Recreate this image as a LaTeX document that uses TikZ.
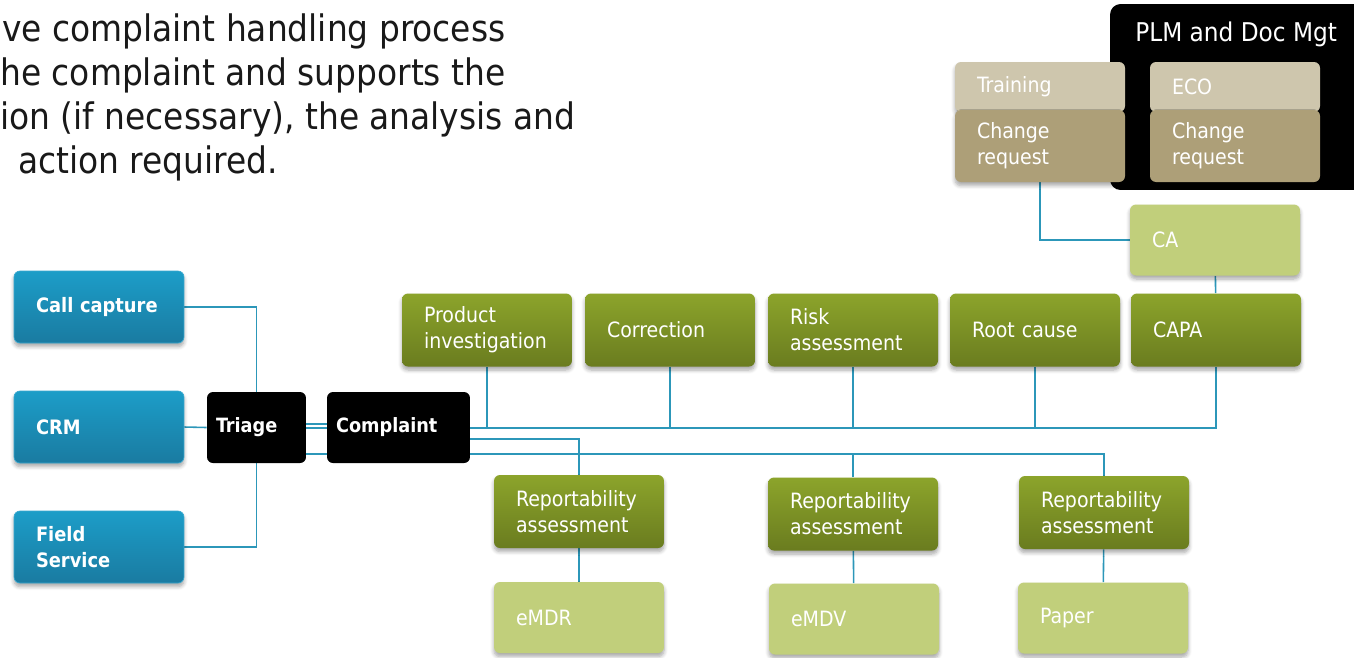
\documentclass[tikz,border=0pt]{standalone}
\usepackage{fontspec}
\setmainfont{DejaVu Sans Condensed}
\usetikzlibrary{positioning,shadows.blur,backgrounds}
\definecolor{blueTop}{HTML}{1C9DC8}
\definecolor{blueBot}{HTML}{1A7BA1}
\definecolor{blueEdge}{HTML}{3AA8CF}
\definecolor{oliveTop}{HTML}{8CA42B}
\definecolor{oliveBot}{HTML}{6A7C1F}
\definecolor{leaf}{HTML}{C1CF7B}
\definecolor{tanLight}{HTML}{CEC6AD}
\definecolor{tanDark}{HTML}{AD9F78}
\definecolor{wireblue}{HTML}{2C97B9}

\begin{document}
\begin{tikzpicture}[x=0.02cm,y=-0.02cm]
  \tikzstyle{every node}=[inner sep=0pt, text=white, font=\fontsize{12}{14.7}\selectfont]
  \tikzstyle{softshadow}=[blur shadow={shadow blur steps=6, shadow xshift=0pt, shadow yshift=-2pt, shadow opacity=35}]
  \tikzstyle{srcbox}=[rectangle, rounded corners=3.4pt, minimum width=3.4cm, minimum height=1.44cm, text width=2.52cm, align=left, top color=blueTop, bottom color=blueBot, draw=blueEdge, softshadow, font=\fontsize{11.3}{14.7}\selectfont\bfseries]
  \tikzstyle{hubbox}=[rectangle, rounded corners=3.4pt, fill=black, minimum height=1.42cm, align=left, font=\fontsize{11.2}{14.7}\selectfont\bfseries]
  \tikzstyle{stagebox}=[rectangle, rounded corners=3.4pt, minimum width=3.4cm, minimum height=1.46cm, text width=2.52cm, align=left, top color=oliveTop, bottom color=oliveBot, softshadow]
  \tikzstyle{leafbox}=[rectangle, rounded corners=3.4pt, minimum width=3.4cm, minimum height=1.42cm, text width=2.52cm, align=left, fill=leaf, softshadow]
  \tikzstyle{tanbox}=[rectangle, rounded corners=3.4pt, minimum width=3.4cm, text width=2.52cm, align=left, softshadow]
  \tikzstyle{wire}=[draw=wireblue, line width=0.9pt]
  \tikzstyle{intro}=[anchor=base west, text=black!90, font=\fontsize{20.8}{25}\selectfont]

  \useasboundingbox (0,0) rectangle (1354,657);

  % intro text, cut at the left edge
  \node[intro] (introA) at (2,41) {ve complaint handling process};
  \node[intro] (introB) at (0,85) {he complaint and supports the};
  \node[intro] (introC) at (0,129) {ion (if necessary), the analysis and};
  \node[intro] (introD) at (18,173) {action required.};

  % sources
  \node[srcbox] (callcap) at (99,307) {Call capture};
  \node[srcbox] (crm) at (99,427) {CRM};
  \node[srcbox] (fieldsvc) at (99,547) {Field\\Service};

  \node[hubbox, minimum width=1.98cm, text width=1.62cm] (triage) at (256.5,427.5) {Triage};
  \node[hubbox, minimum width=2.86cm, text width=2.5cm] (complaint) at (398.5,427.5) {Complaint};

  % investigation stages
  \node[stagebox] (prodinv) at (487,330) {Product\\investigation};
  \node[stagebox] (correct) at (670,330) {Correction};
  \node[stagebox] (riskass) at (853,330) {Risk\\assessment};
  \node[stagebox] (rootc) at (1035,330) {Root cause};
  \node[stagebox] (capa) at (1216,330) {CAPA};
  \node[leafbox] (ca) at (1215,240) {CA};

  % reporting
  \node[stagebox] (repA) at (579,511.5) {Reportability\\assessment};
  \node[stagebox] (repB) at (853,514) {Reportability\\assessment};
  \node[stagebox] (repC) at (1104,512.5) {Reportability\\assessment};
  \node[leafbox] (emdr) at (579,617.5) {eMDR};
  \node[leafbox] (emdv) at (854,619) {eMDV};
  \node[leafbox] (paper) at (1103,618) {Paper};

  % PLM and document management
  \node[rectangle, rounded corners=6pt, fill=black, minimum width=5.4cm, minimum height=3.72cm] (plm) at (1245,97) {};
  \node[anchor=west, font=\fontsize{14.7}{17}\selectfont] (plmlabel) at (1135,34) {PLM and Doc Mgt};
  \node[tanbox, fill=tanLight, minimum height=1.0cm] (training) at (1040,87) {Training};
  \node[tanbox, fill=tanLight, minimum height=1.0cm] (eco) at (1235,87) {ECO};
  \node[tanbox, fill=tanDark, minimum height=1.44cm] (chgA) at (1040,146) {Change\\request};
  \node[tanbox, fill=tanDark, minimum height=1.44cm] (chgB) at (1235,146) {Change\\request};

  \begin{pgfonlayer}{background}
    \draw[wire] (callcap.east) -| (triage.north);
    \draw[wire] (crm.east) -- (triage.west);
    \draw[wire] (fieldsvc.east) -| (triage.south);
    \draw[wire] (triage.east |- 0,424) -- (complaint.west |- 0,424);
    \draw[wire] (triage.east |- 0,428) -| (capa.south);
    \foreach \n in {prodinv,correct,riskass,rootc}
      \draw[wire] (\n.south) -- (\n.south |- 0,428);
    \draw[wire] (complaint.east |- 0,439) -| (repA.north);
    \draw[wire] (triage.east |- 0,454) -| (repC.north);
    \draw[wire] (repB.north) -- (repB.north |- 0,454);
    \foreach \a/\b in {repA/emdr,repB/emdv,repC/paper}
      \draw[wire] (\a) -- (\b);
    \draw[wire] (chgA.south) |- (ca.west);
    \draw[wire] (ca) -- (capa);
  \end{pgfonlayer}
\end{tikzpicture}
\end{document}
